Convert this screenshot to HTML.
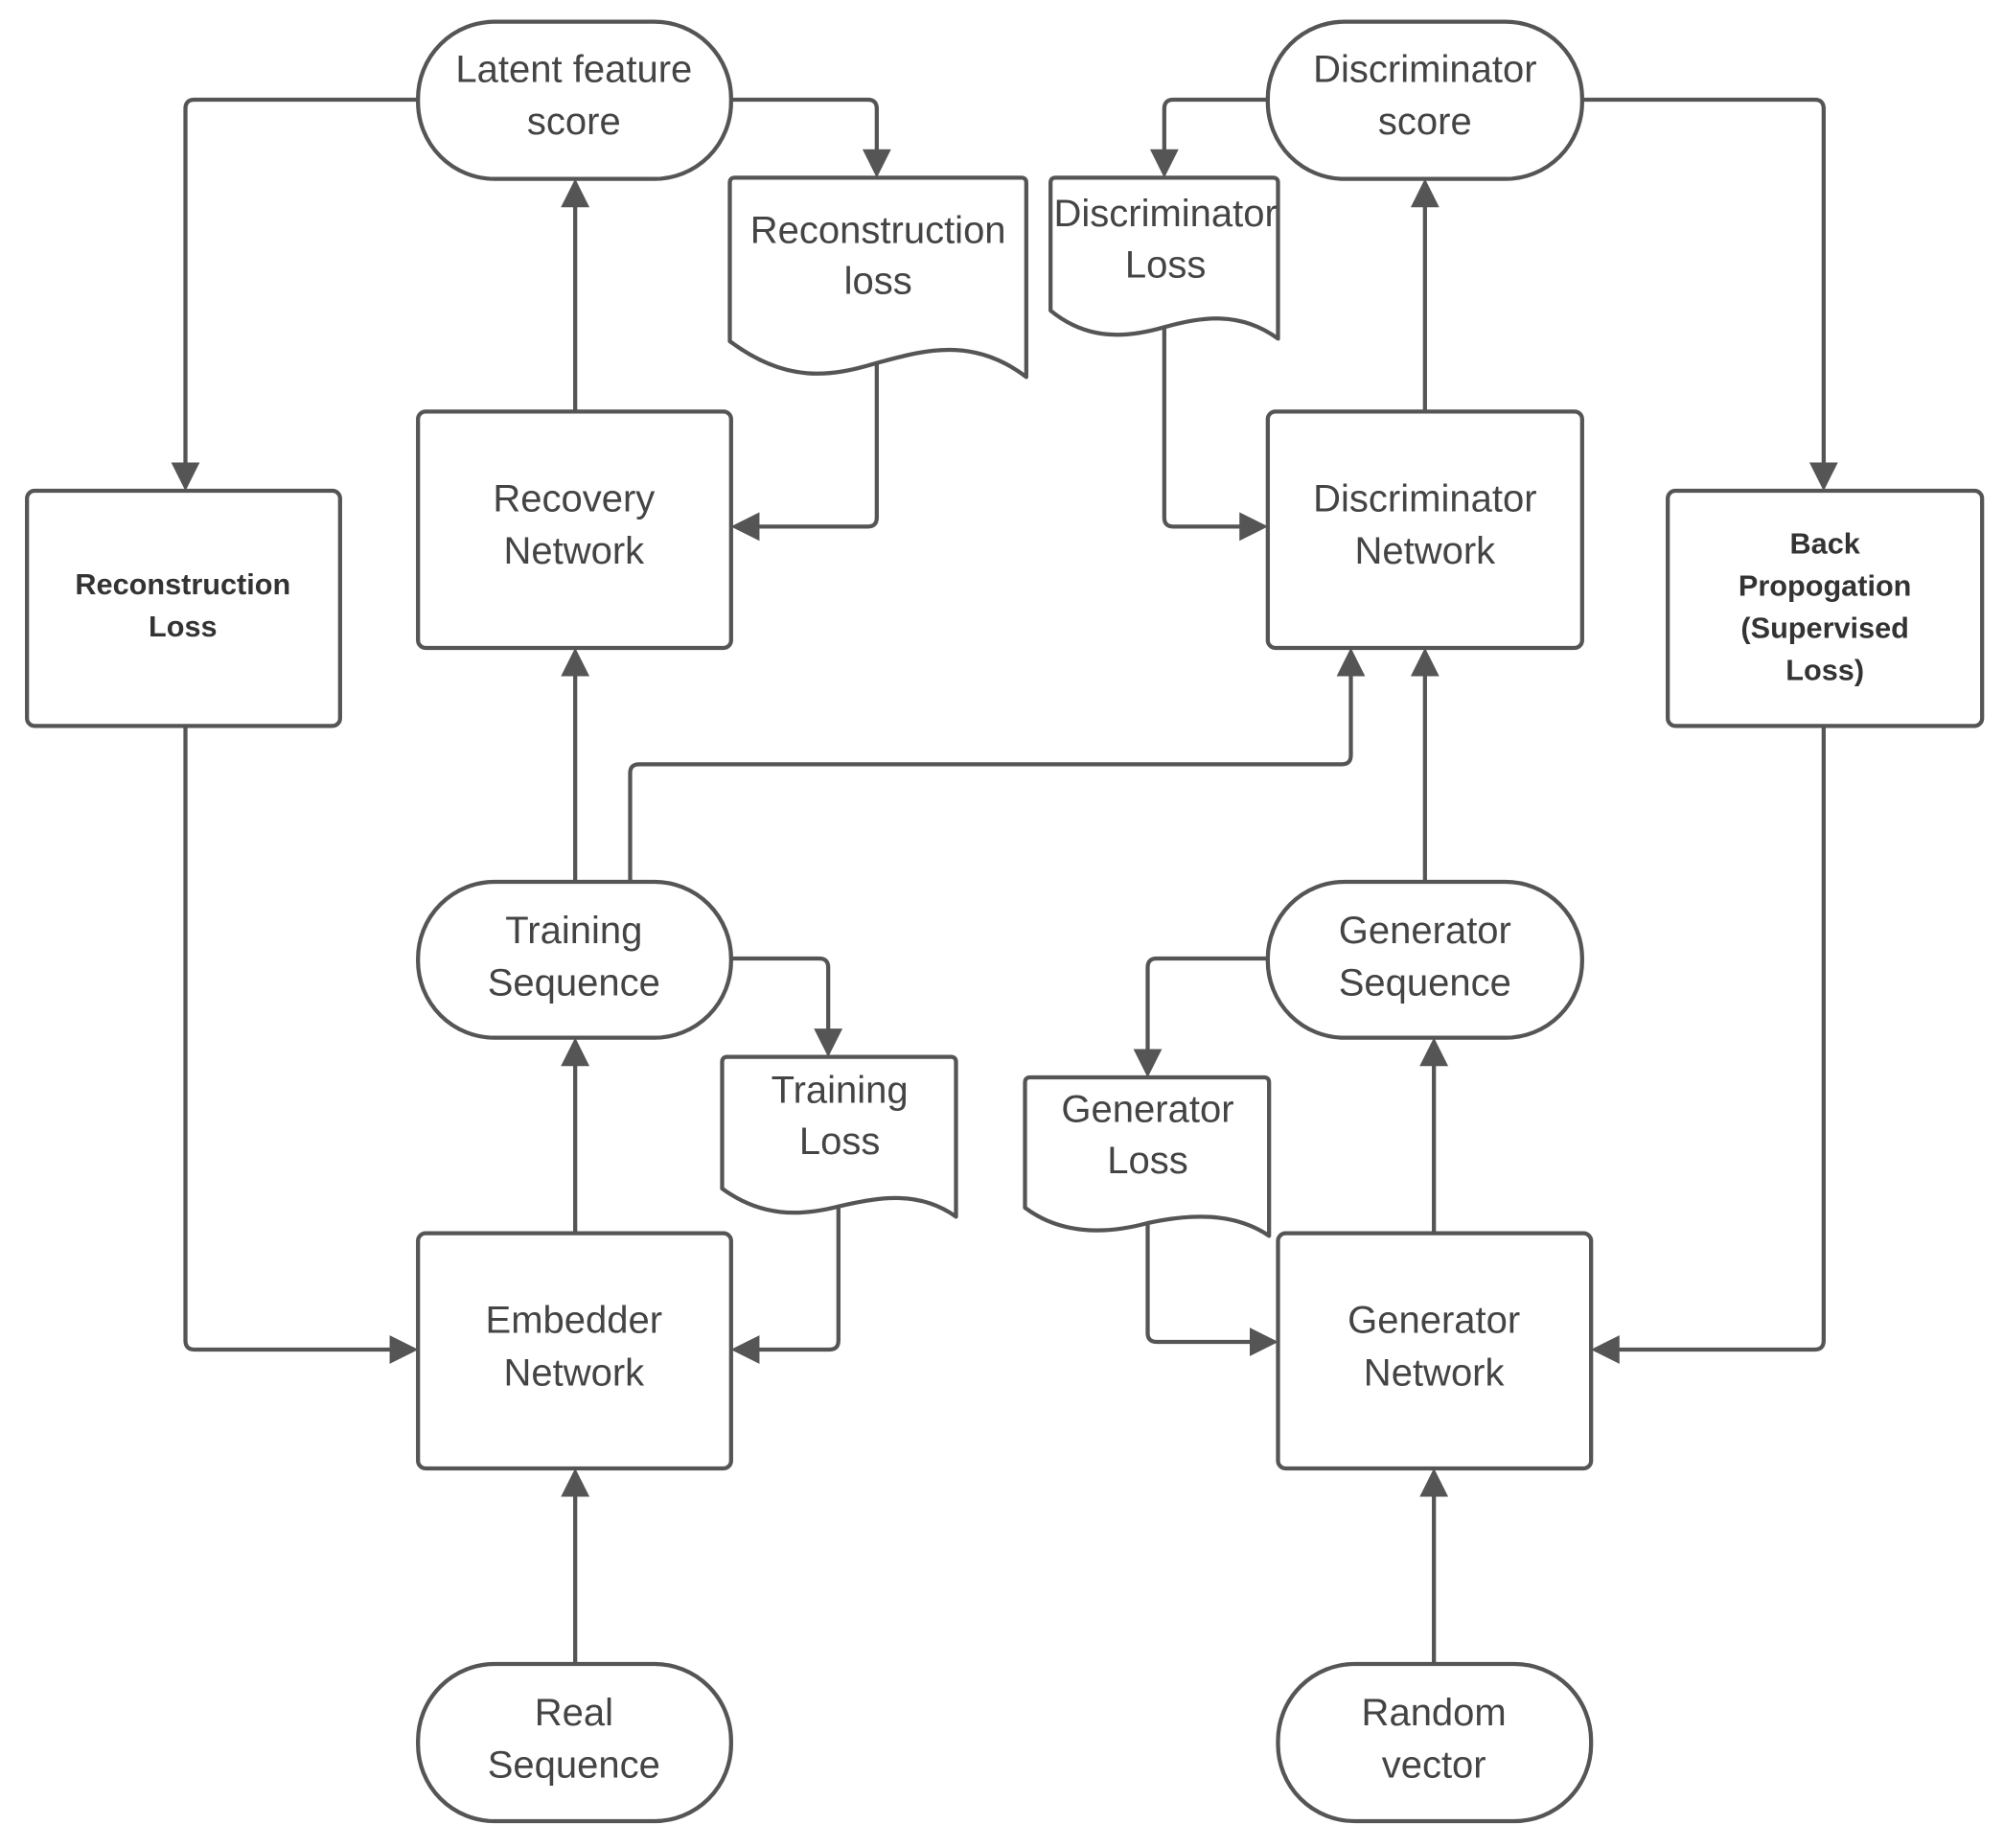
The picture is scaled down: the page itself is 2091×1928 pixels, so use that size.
<!DOCTYPE html>
<html><head><meta charset="utf-8"><style>
html,body{margin:0;padding:0;background:#fff;}
svg{display:block;}
text{font-family:"Liberation Sans",sans-serif;fill:#444;text-anchor:middle;}
.n{font-size:30px;}
.b{font-size:23px;font-weight:bold;fill:#333;}
</style></head><body>
<svg width="2091" height="1928" viewBox="0 0 1568 1446" xmlns="http://www.w3.org/2000/svg">
<defs><marker id="a" markerWidth="7" markerHeight="7" refX="6" refY="3.5" orient="auto" markerUnits="strokeWidth"><path d="M0,0 L7,3.5 L0,7 z" fill="#555"/></marker></defs>
<g fill="none" stroke="#555" stroke-width="3.2" stroke-linejoin="round">
<rect x="327" y="17" width="245" height="123" rx="60"/>
<rect x="992" y="17" width="246" height="123" rx="60"/>
<rect x="327" y="690" width="245" height="122" rx="60"/>
<rect x="992" y="690" width="246" height="122" rx="60"/>
<rect x="327" y="1302" width="245" height="123" rx="60"/>
<rect x="1000" y="1302" width="245" height="123" rx="60"/>
<rect x="327" y="322" width="245" height="185" rx="6"/>
<rect x="992" y="322" width="246" height="185" rx="6"/>
<rect x="21" y="384" width="245" height="184" rx="6"/>
<rect x="1305" y="384" width="246" height="184" rx="6"/>
<rect x="327" y="965" width="245" height="184" rx="6"/>
<rect x="1000" y="965" width="245" height="184" rx="6"/>
<path d="M571,143 Q571,139 575,139 H799 Q803,139 803,143 V295 C760,262 720,275 686,284 C650,295 615,300 571,267 Z"/>
<path d="M822,143 Q822,139 826,139 H996 Q1000,139 1000,143 V265 C970,243 940,248 911,256 C880,265 850,266 822,243 Z"/>
<path d="M565,831 Q565,827 569,827 H744 Q748,827 748,831 V952 C720,932 690,936 656,944 C625,952 595,952 565,930 Z"/>
<path d="M802,847 Q802,843 806,843 H989 Q993,843 993,847 V967 C965,948 930,950 898,957 C865,966 830,966 802,945 Z"/>
<path d="M327,78 H152 Q145,78 145,85 V381" marker-end="url(#a)"/>
<path d="M572,78 H679 Q686,78 686,85 V136" marker-end="url(#a)"/>
<path d="M450,322 V143" marker-end="url(#a)"/>
<path d="M686,285 V405 Q686,412 679,412 H575" marker-end="url(#a)"/>
<path d="M145,568 V1049 Q145,1056 152,1056 H324" marker-end="url(#a)"/>
<path d="M450,690 V510" marker-end="url(#a)"/>
<path d="M493,690 V605 Q493,598 500,598 H1050 Q1057,598 1057,591 V510" marker-end="url(#a)"/>
<path d="M572,750 H641 Q648,750 648,757 V824" marker-end="url(#a)"/>
<path d="M656,945 V1049 Q656,1056 649,1056 H575" marker-end="url(#a)"/>
<path d="M450,965 V815" marker-end="url(#a)"/>
<path d="M450,1302 V1152" marker-end="url(#a)"/>
<path d="M992,78 H918 Q911,78 911,85 V136" marker-end="url(#a)"/>
<path d="M911,256 V405 Q911,412 918,412 H989" marker-end="url(#a)"/>
<path d="M1115,322 V143" marker-end="url(#a)"/>
<path d="M1238,78 H1420 Q1427,78 1427,85 V381" marker-end="url(#a)"/>
<path d="M1115,690 V510" marker-end="url(#a)"/>
<path d="M992,750 H905 Q898,750 898,757 V840" marker-end="url(#a)"/>
<path d="M898,957 V1043 Q898,1050 905,1050 H997" marker-end="url(#a)"/>
<path d="M1122,965 V815" marker-end="url(#a)"/>
<path d="M1427,568 V1049 Q1427,1056 1420,1056 H1248" marker-end="url(#a)"/>
<path d="M1122,1302 V1152" marker-end="url(#a)"/>
</g>
<text class="n" x="449" y="64">Latent feature</text><text class="n" x="449" y="105">score</text>
<text class="n" x="1115" y="64">Discriminator</text><text class="n" x="1115" y="105">score</text>
<text class="n" x="687" y="190">Reconstruction</text><text class="n" x="687" y="230">loss</text>
<text class="n" x="912" y="177">Discriminator</text><text class="n" x="912" y="217">Loss</text>
<text class="n" x="449" y="400">Recovery</text><text class="n" x="449" y="441">Network</text>
<text class="n" x="1115" y="400">Discriminator</text><text class="n" x="1115" y="441">Network</text>
<text class="b" x="143" y="465">Reconstruction</text><text class="b" x="143" y="498">Loss</text>
<text class="b" x="1428" y="433">Back</text><text class="b" x="1428" y="466">Propogation</text><text class="b" x="1428" y="499">(Supervised</text><text class="b" x="1428" y="532">Loss)</text>
<text class="n" x="449" y="738">Training</text><text class="n" x="449" y="779">Sequence</text>
<text class="n" x="1115" y="738">Generator</text><text class="n" x="1115" y="779">Sequence</text>
<text class="n" x="657" y="863">Training</text><text class="n" x="657" y="903">Loss</text>
<text class="n" x="898" y="878">Generator</text><text class="n" x="898" y="918">Loss</text>
<text class="n" x="449" y="1043">Embedder</text><text class="n" x="449" y="1084">Network</text>
<text class="n" x="1122" y="1043">Generator</text><text class="n" x="1122" y="1084">Network</text>
<text class="n" x="449" y="1350">Real</text><text class="n" x="449" y="1391">Sequence</text>
<text class="n" x="1122" y="1350">Random</text><text class="n" x="1122" y="1391">vector</text>
</svg>
</body></html>
